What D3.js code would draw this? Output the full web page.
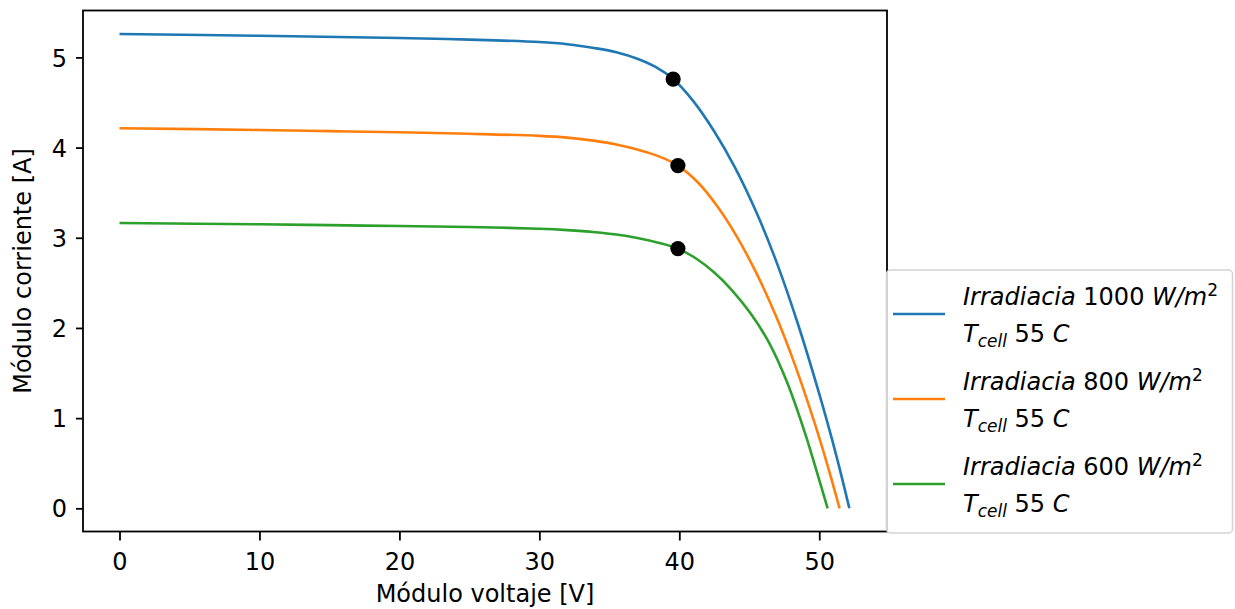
<!DOCTYPE html>
<html><head><meta charset="utf-8">
<script src="https://cdn.jsdelivr.net/npm/d3@7"></script>
<style>
html,body{margin:0;padding:0;background:#fff;}
svg text{font-family:"DejaVu Sans",sans-serif;fill:#000;}
</style></head>
<body><svg id="c" width="1235" height="609"></svg>
<script>
// ---- data ----
const seriesNames = ["1000", "800", "600"];
const seriesColors = ["#1f77b4", "#ff7f0e", "#2ca02c"];

const v1000 = [0, 10, 20, 25, 30, 32, 34, 35.5, 37, 38.3, 39.56, 41.0, 42.5, 44.0, 45.5, 47.0, 48.5, 50.0, 51.2, 52.15];
const i1000 = [5.26, 5.24, 5.215, 5.197, 5.17, 5.146, 5.102, 5.057, 4.985, 4.894, 4.76, 4.515, 4.178, 3.773, 3.285, 2.708, 2.033, 1.268, 0.596, 0];

const v800 = [0, 10, 15, 20, 25, 30, 32, 34, 35.5, 37, 38.5, 39.9, 41.3, 42.7, 44.1, 45.5, 46.9, 48.3, 49.7, 50.6, 51.45];
const i800 = [4.215, 4.195, 4.182, 4.17, 4.153, 4.13, 4.11, 4.074, 4.035, 3.978, 3.905, 3.80, 3.618, 3.352, 3.016, 2.61, 2.134, 1.574, 0.93, 0.471, 0];

const v600 = [0, 10, 15, 20, 25, 30, 32, 34, 35.5, 37, 38.5, 39.9, 41.2, 42.5, 43.8, 45.1, 46.4, 47.7, 49.0, 49.8, 50.6];
const i600 = [3.163, 3.15, 3.14, 3.13, 3.12, 3.10, 3.085, 3.062, 3.036, 2.997, 2.945, 2.88, 2.77, 2.614, 2.412, 2.159, 1.84, 1.398, 0.826, 0.418, 0];

// maximum power points
const mppV = [39.56, 39.9, 39.9];
const mppI = [4.76, 3.80, 2.88];

const xTicks = [0, 10, 20, 30, 40, 50];
const yTicks = [0, 1, 2, 3, 4, 5];
const xLabel = "Módulo voltaje [V]";
const yLabel = "Módulo corriente [A]";
const legendTemp = "55";

// ---- layout ----
const svg = d3.select("#c");
const L = 83, R = 887, T = 10.5, B = 531.5;
const FS = 24;
const x = d3.scaleLinear().domain([-2.608, 54.84]).range([L, R]);
const y = d3.scaleLinear().domain([-0.257, 5.52]).range([B, T]);

const series = [
  {v: v1000, i: i1000},
  {v: v800, i: i800},
  {v: v600, i: i600}
];

const line = d3.line().x(d => x(d[0])).y(d => y(d[1])).curve(d3.curveCatmullRom.alpha(0.5));
const plot = svg.append("g");
series.forEach((s, k) => {
  const pts = s.v.map((vv, j) => [vv, s.i[j]]);
  plot.append("path").attr("d", line(pts)).attr("fill", "none")
    .attr("stroke", seriesColors[k]).attr("stroke-width", 2.6);
});
mppV.forEach((vv, k) => {
  plot.append("circle").attr("cx", x(vv)).attr("cy", y(mppI[k])).attr("r", 7.6).attr("fill", "#000");
});

// axes
const xAxis = d3.axisBottom(x).tickValues(xTicks).tickSize(9).tickPadding(8).tickFormat(d3.format("d"));
const gx = svg.append("g").attr("transform", `translate(0,${B})`).call(xAxis);
gx.select(".domain").remove();
gx.selectAll(".tick line").attr("stroke", "#000").attr("stroke-width", 1.8);
gx.selectAll(".tick text").attr("font-size", FS).attr("font-family", "DejaVu Sans").attr("fill", "#000")
  .attr("y", 0).attr("dy", 0).attr("transform", "translate(0,38)");

const yAxis = d3.axisLeft(y).tickValues(yTicks).tickSize(7).tickPadding(9).tickFormat(d3.format("d"));
const gy = svg.append("g").attr("transform", `translate(${L},0)`).call(yAxis);
gy.select(".domain").remove();
gy.selectAll(".tick line").attr("stroke", "#000").attr("stroke-width", 1.8);
gy.selectAll(".tick text").attr("font-size", FS).attr("font-family", "DejaVu Sans").attr("fill", "#000")
  .attr("dy", "0.36em");

// frame
svg.append("rect").attr("x", L).attr("y", T).attr("width", R - L).attr("height", B - T)
  .attr("fill", "none").attr("stroke", "#000").attr("stroke-width", 1.8);

// labels
svg.append("text").attr("x", (L + R) / 2).attr("y", 602).attr("text-anchor", "middle")
  .attr("font-size", FS).text(xLabel);
svg.append("text").attr("transform", `translate(31,${(T + B) / 2}) rotate(-90)`)
  .attr("text-anchor", "middle").attr("font-size", FS).text(yLabel);

// legend
const lg = svg.append("g");
lg.append("rect").attr("x", 886.5).attr("y", 270).attr("width", 346).attr("height", 263).attr("rx", 4)
  .attr("fill", "#fff").attr("fill-opacity", 0.8).attr("stroke", "#d3d3d3").attr("stroke-width", 1.5);
seriesNames.forEach((nm, k) => {
  const b1 = 305 + 85 * k, b2 = b1 + 36.7;
  lg.append("line").attr("x1", 893).attr("x2", 945).attr("y1", b1 + 9).attr("y2", b1 + 9)
    .attr("stroke", seriesColors[k]).attr("stroke-width", 2.6);
  const t1 = lg.append("text").attr("x", 963).attr("y", b1).attr("font-size", FS);
  t1.append("tspan").attr("font-style", "italic").text("Irradiacia");
  t1.append("tspan").text(" " + nm + " ");
  t1.append("tspan").attr("font-style", "italic").text("W/m");
  t1.append("tspan").attr("font-size", 17).attr("dy", -9).text("2");
  const t2 = lg.append("text").attr("x", 963).attr("y", b2).attr("font-size", FS);
  t2.append("tspan").attr("font-style", "italic").text("T");
  t2.append("tspan").attr("font-style", "italic").attr("font-size", 17).attr("dy", 5).text("cell");
  t2.append("tspan").attr("dy", -5).text(" " + legendTemp + " ");
  t2.append("tspan").attr("font-style", "italic").text("C");
});
</script></body></html>
